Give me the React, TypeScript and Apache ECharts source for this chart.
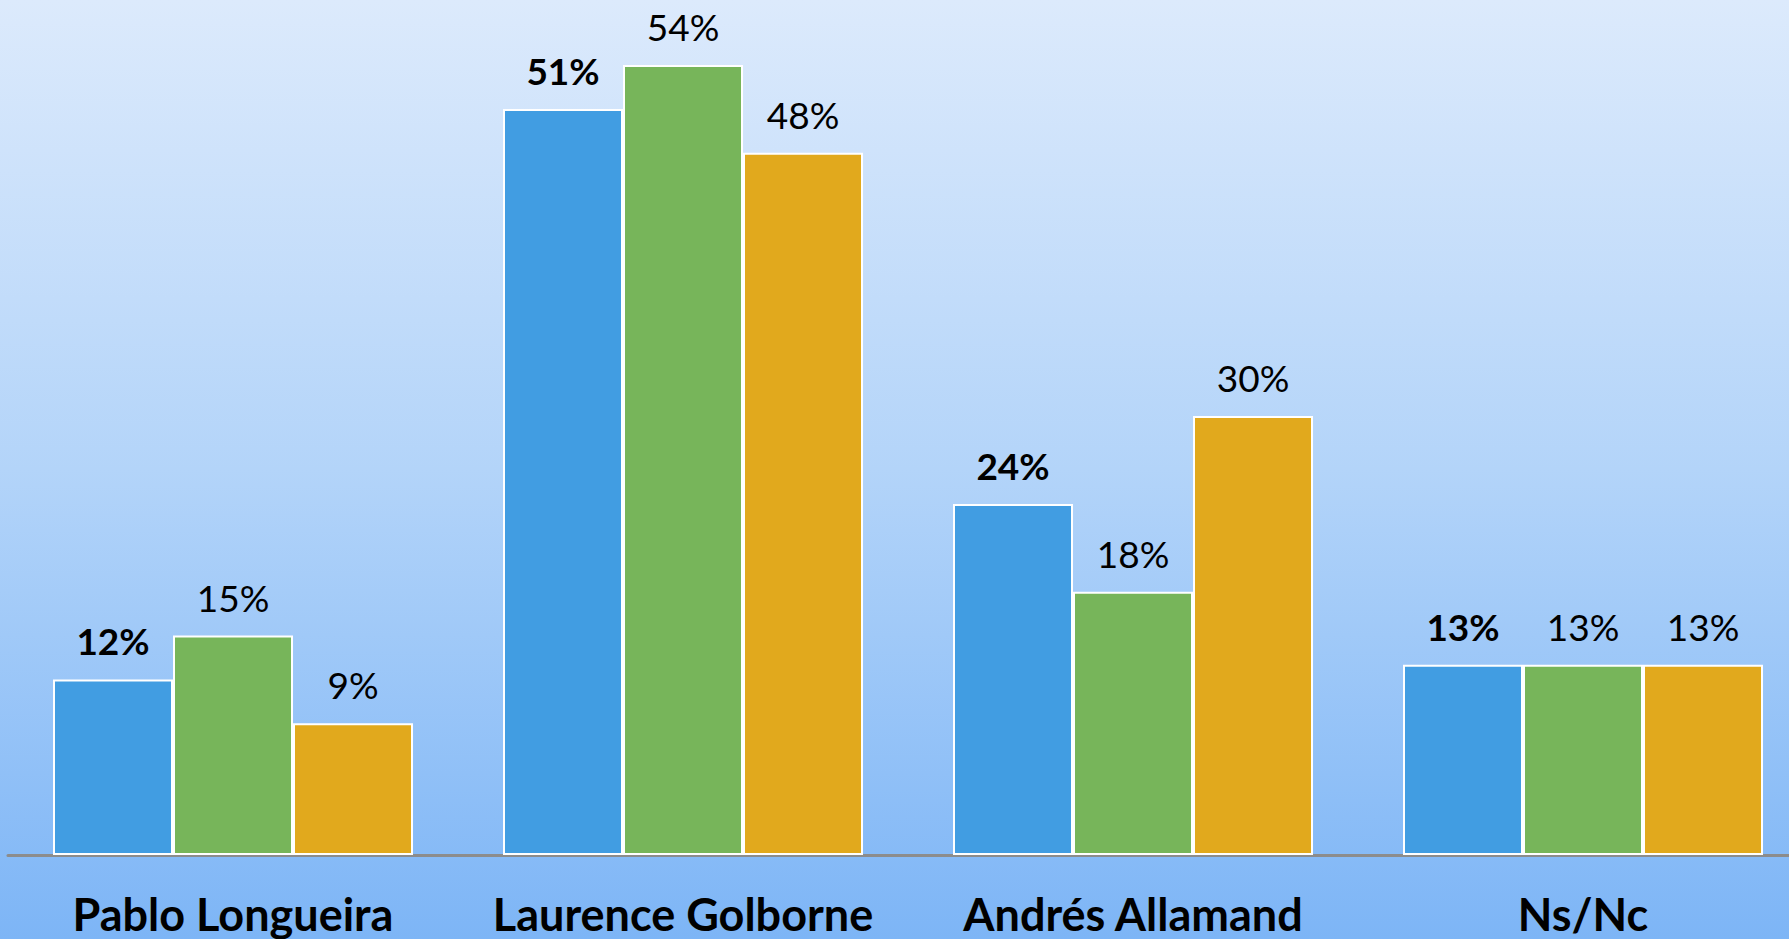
import React, { useEffect, useRef } from "react";
import * as echarts from "echarts";

const categories = ["Pablo Longueira", "Laurence Golborne", "Andrés Allamand", "Ns/Nc"];
const seriesA = [12, 51, 24, 13];
const seriesB = [15, 54, 18, 13];
const seriesC = [9, 48, 30, 13];

const colors = ["#419de2", "#77b55a", "#e1a91d"];
const FONT = "Lato, 'Open Sans', sans-serif";

export default function App() {
  const ref = useRef<HTMLDivElement>(null);
  useEffect(() => {
    if (!ref.current) return;
    const chart = echarts.init(ref.current, undefined, { renderer: "svg" });
    const mk = (name: string, data: number[], color: string, bold: boolean) => ({
      name,
      type: "bar",
      data,
      barGap: "0%",
      barCategoryGap: "20%",
      itemStyle: { color, borderColor: "#ffffff", borderWidth: 2 },
      label: {
        show: true,
        position: "top",
        distance: 20,
        formatter: "{c}%",
        color: "#000",
        fontFamily: FONT,
        fontSize: 37,
        fontWeight: bold ? "bold" : "normal",
      },
    });
    chart.setOption({
      animation: false,
      backgroundColor: {
        type: "linear",
        x: 0,
        y: 0,
        x2: 0,
        y2: 1,
        colorStops: [
          { offset: 0, color: "#dceafc" },
          { offset: 0.5, color: "#b3d4f9" },
          { offset: 1, color: "#7db5f6" },
        ],
      },
      grid: { left: 8, right: 2, top: 6.5, bottom: 84, containLabel: false },
      xAxis: {
        type: "category",
        data: categories,
        axisTick: { show: false },
        axisLine: { show: true, lineStyle: { color: "#8c8c8c", width: 3 } },
        axisLabel: {
          interval: 0,
          margin: 36,
          color: "#000",
          fontFamily: FONT,
          fontWeight: "bold",
          fontSize: 45,
        },
      },
      yAxis: {
        type: "value",
        min: 0,
        max: 58,
        show: false,
        splitLine: { show: false },
      },
      series: [
        mk("A", seriesA, colors[0], true),
        mk("B", seriesB, colors[1], false),
        mk("C", seriesC, colors[2], false),
      ],
    });
    return () => chart.dispose();
  }, []);
  return (
    <div
      style={{
        position: "fixed",
        left: 0,
        top: 0,
        width: 1789,
        height: 939,
        overflow: "hidden",
      }}
    >
      <div ref={ref} style={{ width: 1810, height: 939 }} />
    </div>
  );
}
